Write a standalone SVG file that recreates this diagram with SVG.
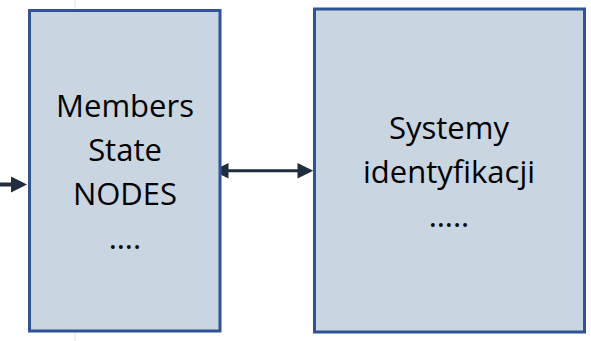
<svg xmlns="http://www.w3.org/2000/svg" width="591" height="341" viewBox="0 0 591 341">
  <style>
    .box { fill: #c9d5e1; stroke: #2f5394; stroke-width: 3; }
    .label { font-family: "Open Sans", "Noto Sans", "Liberation Sans", sans-serif; font-size: 31px; fill: #000; text-anchor: middle; }
    .link { stroke: #1f2d3e; fill: none; }
    .head { fill: #1f2d3e; }
  </style>
  <rect width="591" height="341" fill="#ffffff"/>
  <!-- faint page guide -->
  <line x1="75" y1="0" x2="75" y2="341" stroke="#ececec" stroke-width="1.5"/>

  <g id="connectors">
    <!-- incoming arrow on the left -->
    <line class="link" x1="0" y1="184.5" x2="13" y2="184.5" stroke-width="4"/>
    <polygon class="head" points="27,184.5 11,176.5 11,192.5"/>
    <!-- two-way link between the nodes -->
    <line class="link" x1="226" y1="170.7" x2="300" y2="170.7" stroke-width="3"/>
    <polygon class="head" points="212.7,170.7 228.5,163 228.5,178.4"/>
    <polygon class="head" points="313.3,170.7 297.5,163 297.5,178.4"/>
  </g>

  <g id="members-state-nodes">
    <rect class="box" x="29.5" y="10.5" width="190.5" height="320.5"/>
    <text class="label" x="125" y="116.5">Members</text>
    <text class="label" x="125" y="160.5">State</text>
    <text class="label" x="125" y="204.5">NODES</text>
    <text class="label" x="125" y="248.5">….</text>
  </g>

  <g id="systemy-identyfikacji">
    <rect class="box" x="314.5" y="9" width="270" height="323"/>
    <text class="label" x="449" y="138.5">Systemy</text>
    <text class="label" x="449" y="182.5">identyfikacji</text>
    <text class="label" x="449" y="226.5">…..</text>
  </g>
</svg>
